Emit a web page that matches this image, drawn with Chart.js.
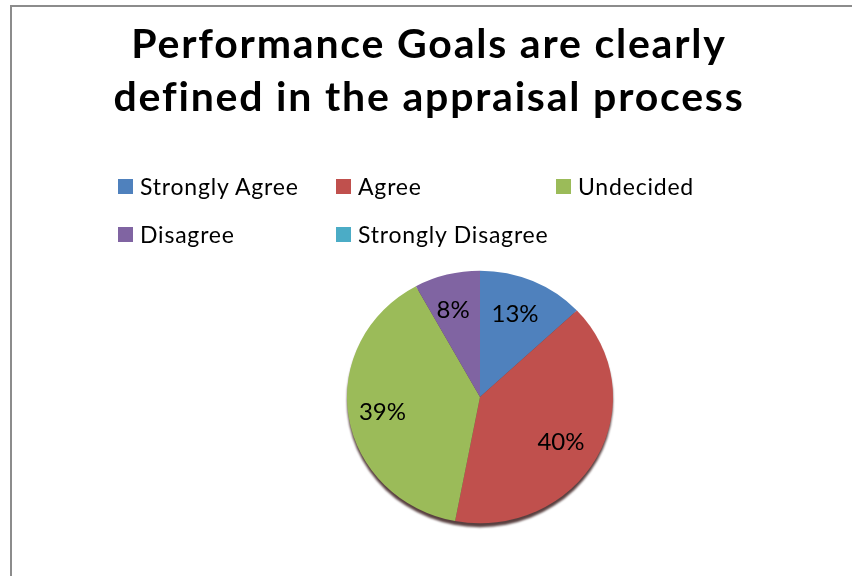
<!DOCTYPE html>
<html>
<head>
<meta charset="utf-8">
<script src="https://cdn.jsdelivr.net/npm/chart.js@4/dist/chart.umd.min.js"></script>
<style>
  html,body{margin:0;padding:0;background:#fff;}
  #wrap{position:relative;width:852px;height:576px;overflow:hidden;font-family:Lato,"Open Sans",sans-serif;}
  #frame{position:absolute;left:10px;top:5px;right:-10px;bottom:-10px;border-left:2px solid #8c8c8c;border-top:2px solid #8c8c8c;}
  #title{position:absolute;left:0;top:16px;width:858px;text-align:center;font-weight:bold;font-size:41px;letter-spacing:1.8px;line-height:53px;color:#000;}
  #legend{position:absolute;left:0;top:0;width:852px;height:260px;}
  .li{position:absolute;font-size:23px;letter-spacing:0.8px;line-height:26px;color:#000;white-space:nowrap;}
  .li span.box{position:absolute;left:-22px;top:6px;width:15px;height:15px;}
  canvas{position:absolute;left:0;top:0;}
</style>
</head>
<body>
<div id="wrap">
  <div id="frame"></div>
  <canvas id="c" width="852" height="576"></canvas>
  <div id="title"></div>
  <div id="legend"></div>
</div>
<script>
const titleLines = ["Performance Goals are clearly", "defined in the appraisal process"];
const categories = ["Strongly Agree", "Agree", "Undecided", "Disagree", "Strongly Disagree"];
const percentages = [13, 40, 39, 8, 0];
const colors = ["#4F81BD", "#C0504D", "#9BBB59", "#8064A2", "#4BACC6"];

document.getElementById('title').innerHTML = titleLines.join('<br>');

// legend grid positions (style only)
const legendPos = [[140,173],[358,173],[578,173],[140,221],[358,221]];
const lg = document.getElementById('legend');
categories.forEach((c,i)=>{
  const d = document.createElement('div');
  d.className='li';
  d.style.left = legendPos[i][0]+'px';
  d.style.top = legendPos[i][1]+'px';
  d.innerHTML = '<span class="box" style="background:'+colors[i]+'"></span>'+c;
  lg.appendChild(d);
});

const SY = 0.95;
const squash = {
  id:'squash',
  beforeDatasetsDraw(chart){
    const meta = chart.getDatasetMeta(0);
    const a = meta.data[0];
    const ctx = chart.ctx;
    ctx.save();
    ctx.translate(a.x, a.y);
    ctx.scale(1, SY);
    ctx.translate(-a.x, -a.y);
    ctx.save();
    ctx.beginPath();
    ctx.arc(a.x, a.y+4, a.outerRadius, 0, Math.PI*2);
    ctx.fillStyle = 'rgba(60,30,30,0.85)';
    ctx.filter = 'blur(1px)';
    ctx.fill();
    ctx.restore();
  },
  afterDatasetsDraw(chart){
    const ctx = chart.ctx;
    ctx.restore();
    const meta = chart.getDatasetMeta(0);
    ctx.save();
    ctx.font = '24px Lato, "Open Sans", sans-serif';
    ctx.fillStyle = '#000';
    ctx.textAlign = 'center';
    ctx.textBaseline = 'middle';
    meta.data.forEach((arc,i)=>{
      const v = chart.data.datasets[0].data[i];
      if(!v) return;
      const mid = (arc.startAngle + arc.endAngle)/2;
      const r = arc.outerRadius*0.72;
      const x = arc.x + Math.cos(mid)*r;
      const y = arc.y + Math.sin(mid)*r*SY;
      ctx.fillText(v + '%', x - 3, y + 1);
    });
    ctx.restore();
  }
};

new Chart(document.getElementById('c'), {
  type:'pie',
  data:{
    labels: categories,
    datasets:[{
      data: percentages,
      backgroundColor: colors,
      borderWidth: 0
    }]
  },
  options:{
    responsive:false,
    animation:false,
    layout:{padding:{left:347, right:239, top:264, bottom:46}},
    plugins:{
      legend:{display:false},
      title:{display:false},
      tooltip:{enabled:false}
    }
  },
  plugins:[squash]
});
</script>
</body>
</html>
